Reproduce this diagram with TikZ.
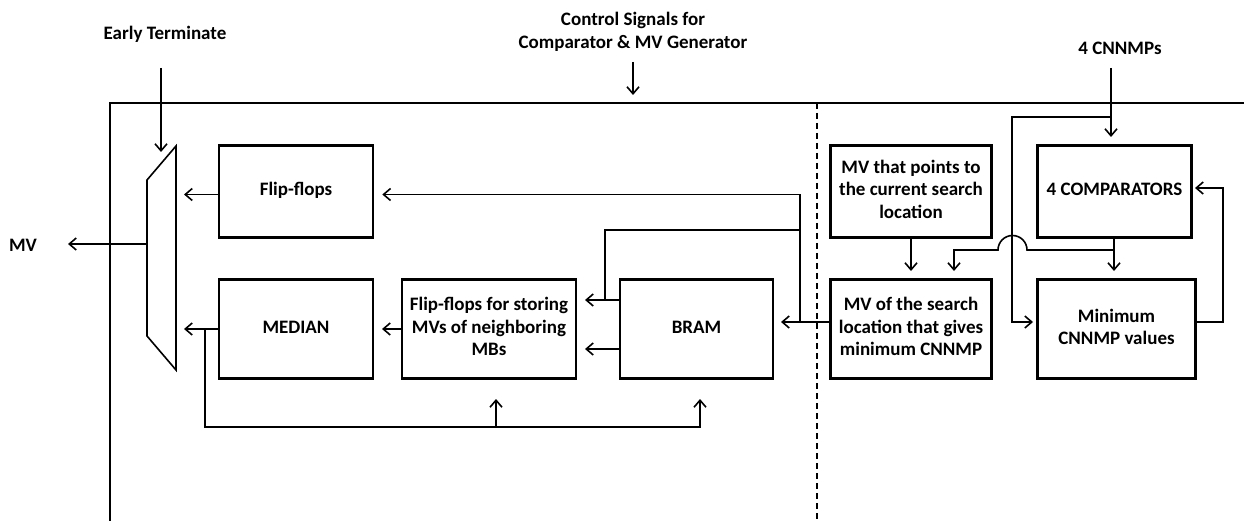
\documentclass[tikz,border=0pt]{standalone}
\usepackage{fontspec}
\setmainfont{Carlito}
\usetikzlibrary{arrows.meta,calc}
\newcommand{\lines}[2]{\raisebox{#1}{\begin{tabular}{@{}c@{}}#2\end{tabular}}}
\begin{document}
\begin{tikzpicture}[x=1pt,y=-1pt,
  box/.style={draw,line width=2.6pt,align=center,inner sep=0pt,font=\fontsize{19}{22.5}\selectfont\bfseries},
  lbl/.style={align=center,inner sep=0pt,font=\fontsize{19}{22.7}\selectfont\bfseries},
  conn/.style={line width=1.6pt},
  arr/.style={conn,-{Straight Barb[length=7pt,width=12pt]}},
  frame/.style={line width=2.6pt}]
\useasboundingbox (0,0) rectangle (1244,521);
% frame
\coordinate (frTR) at (1244,103);
\coordinate (frTL) at (110,103);
\coordinate (frBL) at (110,521);
\draw[frame] (frTR) -- (frTL) -- (frBL);
\coordinate (dsT) at (817,103);
\coordinate (dsB) at (817,521);
\draw[conn,dash pattern=on 6pt off 4pt] (dsT) -- (dsB);
% boxes
\node[box,minimum width=154pt,minimum height=91.6pt] (ff) at (296,191.5) {\lines{1pt}{Flip-flops}};
\node[box,minimum width=154pt,minimum height=99pt] (median) at (296,328.8) {\lines{5pt}{MEDIAN}};
\node[box,minimum width=174pt,minimum height=99pt] (ffs) at (489,328.8) {\lines{-3pt}{Flip-flops for storing\\MVs of neighboring\\MBs}};
\node[box,minimum width=153pt,minimum height=99pt] (bram) at (696.5,328.8) {\lines{5pt}{BRAM}};
\node[box,minimum width=161pt,minimum height=91.6pt] (mvp) at (911,191.5) {\lines{0pt}{MV that points to\\the current search\\location}};
\node[box,minimum width=153.5pt,minimum height=91.6pt] (comp) at (1114.5,191.5) {\lines{2pt}{4 COMPARATORS}};
\node[box,minimum width=161pt,minimum height=99pt] (mvs) at (911,328.8) {\lines{4pt}{MV of the search\\location that gives\\minimum CNNMP}};
\node[box,minimum width=157.5pt,minimum height=99pt] (minc) at (1116.5,328.8) {\lines{0pt}{Minimum\\CNNMP values}};
% mux
\coordinate (mTL) at (147,180);
\coordinate (mTR) at (176,146);
\coordinate (mBR) at (176,370);
\coordinate (mBL) at (147,336);
\draw[conn] (mTL) -- (mTR) -- (mBR) -- (mBL) -- cycle;
% labels
\node[lbl] (et) at (165,34) {Early Terminate};
\node[lbl] (cs) at (633,32) {Control Signals for\\Comparator \& MV Generator};
\node[lbl] (cn) at (1120,48) {4 CNNMPs};
\node[lbl] (mv) at (23,245) {MV};
% top inputs
\coordinate (etS) at (161,68);
\coordinate (etE) at (161,152);
\draw[arr] (etS) -- (etE);
\coordinate (csS) at (633,62);
\coordinate (csE) at (633,95);
\draw[arr] (csS) -- (csE);
\coordinate (cnS) at (1111,68);
\coordinate (cnE) at (1111,137);
\draw[arr] (cnS) -- (cnE);
% mux output
\coordinate (mvO) at (147,244);
\coordinate (mvT) at (68,244);
\draw[arr] (mvO) -- (mvT);
% left section connectors
\draw[arr] (ff.west |- 0,194.5) -- (184,194.5);
\draw[arr] (median.west |- 0,329) -- (184,329);
\draw[arr] (ffs.west |- 0,329) -- (382,329);
\draw[arr] (bram.west |- 0,300) -- (585,300);
\draw[arr] (bram.west |- 0,349) -- (585,349);
\draw[arr] (mvs.west |- 0,322) -- (781,322);
\draw[arr] (800,322) -- (800,194.5) -- ($(ff.east |- 0,194.5)+(8,0)$);
\draw[conn] (800,230) -- (605,230) -- (605,300);
% feedback under boxes
\draw[arr] (205,329) -- (205,427) -- (700,427) -- (700,399);
\draw[arr] (496,427) -- (496,399);
% right section connectors
\draw[arr] (1111,117) -- (1012,117) -- (1012,322) -- (1033,322);
\draw[arr] (mvp.south) -- (911,271);
\draw[arr] (1114,237) -- (1114,271);
\draw[arr] (1114,250) -- (1027,250) arc[start angle=0,end angle=180,radius=14.5pt] -- (954,250) -- (954,271);
\draw[arr] (minc.east |- 0,322) -- (1223,322) -- (1223,188) -- (1195,188);
\end{tikzpicture}
\end{document}
